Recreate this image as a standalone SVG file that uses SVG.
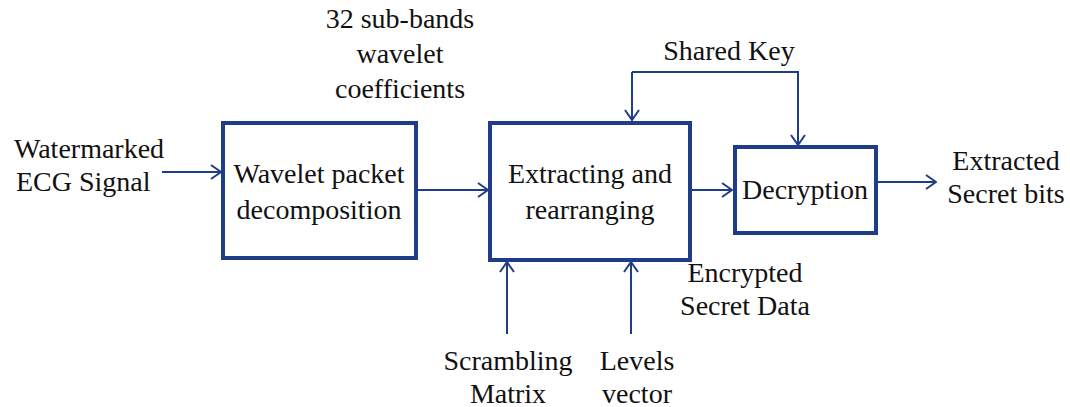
<svg xmlns="http://www.w3.org/2000/svg" width="1070" height="407" viewBox="0 0 1070 407">
<defs>
<marker id="a" viewBox="0 0 12 16" refX="11" refY="8" markerWidth="12" markerHeight="16" markerUnits="userSpaceOnUse" orient="auto">
<path d="M1,1 L11,8 L1,15" fill="none" stroke="#1f3c88" stroke-width="2"/>
</marker>
</defs>
<rect width="1070" height="407" fill="#fff"/>
<g id="connectors" fill="none" stroke="#1f3c88" stroke-width="2">
<line x1="162" y1="172" x2="221" y2="172" marker-end="url(#a)"/>
<line x1="418" y1="190" x2="488" y2="190" marker-end="url(#a)"/>
<line x1="692" y1="190" x2="732" y2="190" marker-end="url(#a)"/>
<line x1="878" y1="182" x2="936" y2="182" marker-end="url(#a)"/>
<polyline points="632,72 798,72 798,145" marker-end="url(#a)"/>
<line x1="632" y1="72" x2="632" y2="120" marker-end="url(#a)"/>
<line x1="507" y1="334" x2="507" y2="262" marker-end="url(#a)"/>
<line x1="631" y1="334" x2="631" y2="262" marker-end="url(#a)"/>
</g>
<g font-family="Liberation Serif" font-size="28" fill="#111">
<g id="wavelet" text-anchor="middle">
<rect x="223" y="123" width="193" height="135" fill="#fff" stroke="#1f3c88" stroke-width="4"/>
<text x="319" y="183">Wavelet packet</text>
<text x="319" y="219">decomposition</text>
</g>
<g id="extracting" text-anchor="middle">
<rect x="490" y="123" width="200" height="137" fill="#fff" stroke="#1f3c88" stroke-width="4"/>
<text x="590" y="183">Extracting and</text>
<text x="590" y="219">rearranging</text>
</g>
<g id="decryption" text-anchor="middle">
<rect x="735" y="147" width="141" height="86" fill="#fff" stroke="#1f3c88" stroke-width="4"/>
<text x="805" y="199">Decryption</text>
</g>
<g id="labels">
<text x="14" y="158">Watermarked</text>
<text x="16" y="191">ECG Signal</text>
<g text-anchor="middle">
<text x="400" y="28">32 sub-bands</text>
<text x="400" y="63">wavelet</text>
<text x="400" y="98">coefficients</text>
<text x="729" y="60">Shared Key</text>
<text x="1006" y="170">Extracted</text>
<text x="1006" y="203">Secret bits</text>
<text x="745" y="282">Encrypted</text>
<text x="745" y="315">Secret Data</text>
<text x="508" y="370">Scrambling</text>
<text x="508" y="403">Matrix</text>
<text x="637" y="370">Levels</text>
<text x="637" y="403">vector</text>
</g>
</g>
</g>
</svg>
